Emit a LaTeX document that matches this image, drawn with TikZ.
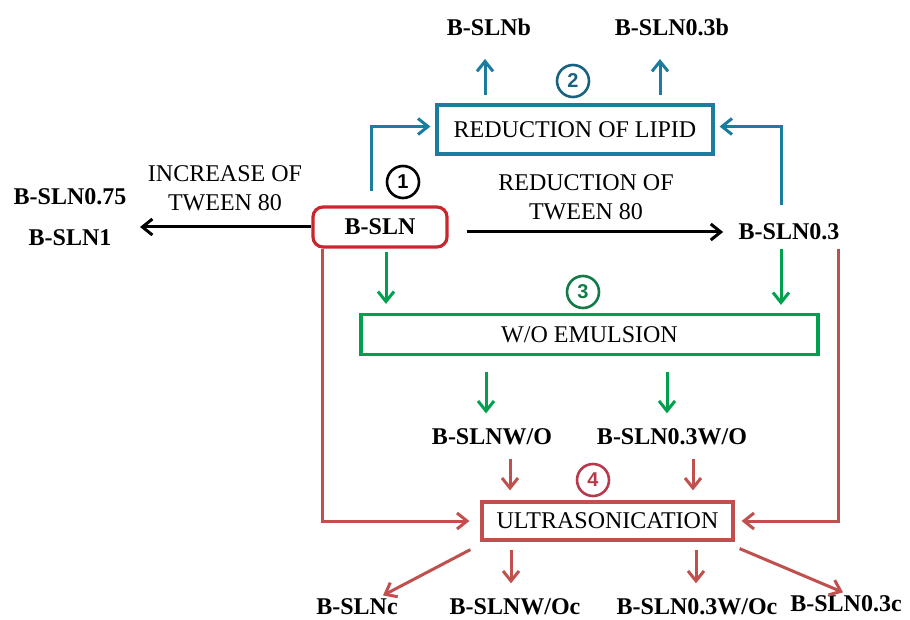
\documentclass[tikz,border=0pt]{standalone}
\usepackage{fontspec}
\setmainfont{Liberation Serif}
\newfontfamily\numfont{Liberation Sans}
\usetikzlibrary{arrows.meta, positioning, calc}
\definecolor{cblue}{HTML}{1B7C9E}
\definecolor{cdblue}{HTML}{17637F}
\definecolor{cgreen}{HTML}{00A04E}
\definecolor{cdgreen}{HTML}{137A48}
\definecolor{cred}{HTML}{C0504D}
\definecolor{cdred}{HTML}{C8282D}
\definecolor{cpink}{HTML}{B8394C}
\tikzset{
  every picture/.style={x=0.5pt, y=-0.5pt, line width=1.5pt, font=\fontsize{12}{14.5}\selectfont},
  stagebox/.style={draw=#1, rectangle, inner sep=2pt, line width=1.6pt},
  sample/.style={font=\fontsize{12}{14}\selectfont\bfseries, inner sep=1pt},
  conn/.style={-{Straight Barb[length=5pt, width=8pt, line width=1.5pt]}, draw=#1, line width=1.5pt},
  stepno/.style={circle, draw=#1, text=#1, line width=1.3pt, minimum size=16pt, inner sep=0pt, font=\numfont\bfseries\fontsize{10}{10}\selectfont},
  lbl/.style={align=center, inner sep=1pt},
}
\begin{document}
\begin{tikzpicture}
  \useasboundingbox (0,0) rectangle (910,620);
  % stages
  \node[stagebox=cdred, rounded corners=5pt, minimum width=67pt, minimum height=20pt, font=\fontsize{12}{14}\selectfont\bfseries] (bsln) at (380,227) {B-SLN};
  \node[stagebox=cblue, minimum width=138pt, minimum height=24.5pt] (lipid) at (575,129.5) {REDUCTION OF LIPID};
  \node[stagebox=cgreen, minimum width=228.5pt, minimum height=20pt] (emul) at (589.5,334.5) {W/O EMULSION};
  \node[stagebox=cred, minimum width=125.5pt, minimum height=19pt] (ultra) at (607.5,521) {ULTRASONICATION};
  % samples
  \node[sample] (bslnb) at (489,27) {B-SLNb};
  \node[sample] (bslnb3) at (672,27) {B-SLN0.3b};
  \node[sample] (b075) at (70,197) {B-SLN0.75};
  \node[sample] (b1) at (70,238) {B-SLN1};
  \node[sample] (b03) at (789,232) {B-SLN0.3};
  \node[sample] (bwo) at (492,437) {B-SLNW/O};
  \node[sample] (b03wo) at (672,437) {B-SLN0.3W/O};
  \node[sample] (bc) at (357,607) {B-SLNc};
  \node[sample] (bwoc) at (515,607) {B-SLNW/Oc};
  \node[sample] (b03woc) at (697,607) {B-SLN0.3W/Oc};
  \node[sample] (b03c) at (846,604) {B-SLN0.3c};
  \node[lbl] (incr) at (225,188) {INCREASE OF\\TWEEN 80};
  \node[lbl] (redt) at (586,197) {REDUCTION OF\\TWEEN 80};
  % step numbers
  \node[stepno=black] (s1) at (403,182) {1};
  \node[stepno=cdblue] (s2) at (573,81) {2};
  \node[stepno=cdgreen] (s3) at (583,292) {3};
  \node[stepno=cpink] (s4) at (593,480) {4};
  % tween 80
  \coordinate (leftend) at (140,227);
  \draw[conn=black] (bsln.west) -- (leftend);
  \draw[conn=black] ($(bsln.east |- b03.west)+(18,0)$) -- ($(b03.west)+(-12,0)$);
  % lipid
  \draw[conn=cblue] ($(bsln.north)+(-9,-14)$) |- ($(lipid.west)+(-5,-3)$);
  \draw[conn=cblue] ($(b03.north)+(-8,-15)$) |- ($(lipid.east)+(5,-3)$);
  \draw[conn=cblue] ($(lipid.north -| bslnb.south)+(-4,-8)$) -- ($(bslnb.south)+(-4,20)$);
  \draw[conn=cblue] ($(lipid.north -| bslnb3.south)+(-12,-8)$) -- ($(bslnb3.south)+(-12,20)$);
  % emulsion
  \draw[conn=cgreen] ($(bsln.south)+(6,3)$) -- ($(bsln.south |- emul.north)+(6,-9)$);
  \draw[conn=cgreen] ($(b03.south)+(-8,5)$) -- ($(b03.south |- emul.north)+(-8,-8)$);
  \draw[conn=cgreen] ($(bwo.north |- emul.south)+(-6,16)$) -- ($(bwo.north)+(-6,-12)$);
  \draw[conn=cgreen] ($(b03wo.north |- emul.south)+(-5,16)$) -- ($(b03wo.north)+(-5,-12)$);
  % ultrasonication
  \draw[conn=cred] ($(bsln.south west)+(11,0)$) |- ($(ultra.west)+(-11,0)$);
  \draw[conn=cred] ($(b03.south east)+(-4,5)$) |- ($(ultra.east)+(7,0)$);
  \draw[conn=cred] ($(bwo.south)+(18,10)$) -- ($(bwo.south |- ultra.north)+(18,-10)$);
  \draw[conn=cred] ($(b03wo.south)+(21,10)$) -- ($(b03wo.south |- ultra.north)+(21,-10)$);
  \draw[conn=cred] ($(ultra.south west)+(-10,8)$) -- ($(bc.north)+(26,0)$);
  \draw[conn=cred] ($(bwoc.north |- ultra.south)+(-4,8)$) -- ($(bwoc.north)+(-4,-12)$);
  \draw[conn=cred] ($(b03woc.north |- ultra.south)+(-1,8)$) -- ($(b03woc.north)+(-1,-12)$);
  \draw[conn=cred] ($(ultra.south east)+(5,7)$) -- ($(b03c.north)+(-3,0)$);
\end{tikzpicture}
\end{document}
